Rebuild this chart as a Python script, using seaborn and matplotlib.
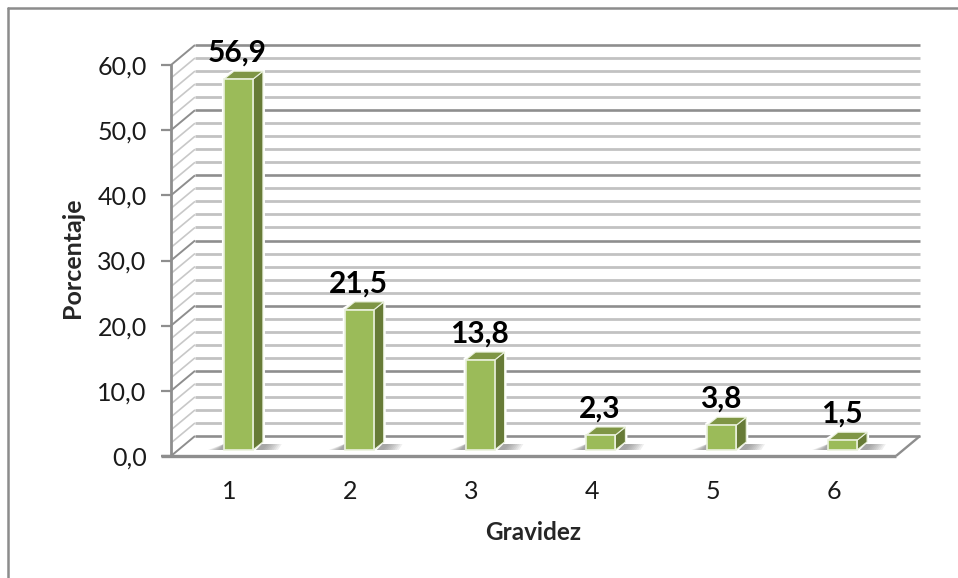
import matplotlib
matplotlib.use("Agg")
import matplotlib.pyplot as plt
import numpy as np
import pandas as pd
import seaborn as sns
from matplotlib.patches import Polygon
from matplotlib.lines import Line2D
from matplotlib.transforms import ScaledTranslation

categories = ["1", "2", "3", "4", "5", "6"]
percentages = [56.9, 21.5, 13.8, 2.3, 3.8, 1.5]
value_labels = ["56,9", "21,5", "13,8", "2,3", "3,8", "1,5"]
major_ticks = [0, 10, 20, 30, 40, 50, 60]
minor_grid = [2, 4, 6, 8, 12, 14, 16, 18, 22, 24, 26, 28, 32, 34, 36, 38, 42, 44, 46, 48, 52, 54, 56, 58]

W, H = 958, 578
sns.set_theme(style="white")
plt.rcParams["font.family"] = ["Lato", "DejaVu Sans"]

fig = plt.figure(figsize=(W / 100, H / 100), dpi=100, facecolor="white")
# Front plane of the pseudo-3D plot, in pixels
left, right, top, bottom = 171, 896, 65, 456
ax = fig.add_axes([left / W, 1 - bottom / H, (right - left) / W, (bottom - top) / H])
ax.patch.set_alpha(0)

df = pd.DataFrame({"Gravidez": categories, "Porcentaje": percentages})
sns.barplot(data=df, x="Gravidez", y="Porcentaje", color="#9BBB59", saturation=1,
            width=0.24, ax=ax, zorder=5, edgecolor="#EAF1DD", linewidth=1.2)
ax.set_xlim(-0.5, 5.5)
ax.set_ylim(0, 60)

ux = 6 / (right - left)      # data units per pixel, x
uy = 60 / (bottom - top)     # data units per pixel, y


def px(dx, dy):
    return dx * ux, dy * uy


# Back wall depth
wall_dx, wall_dy = px(24, 20)
xa, xb = -0.5, 5.5


def guide(xs, ys, color, lw, z=1):
    ax.add_line(Line2D(xs, ys, color=color, lw=lw, zorder=z, clip_on=False, solid_capstyle="butt"))


for v in minor_grid:
    guide([xa, xa + wall_dx], [v, v + wall_dy], "#C8C8C8", 1.2)
    guide([xa + wall_dx, xb + wall_dx], [v + wall_dy, v + wall_dy], "#C2C2C2", 2.0)
for v in major_ticks:
    guide([xa, xa + wall_dx], [v, v + wall_dy], "#8E8E8E", 1.4, 2)
    guide([xa + wall_dx, xb + wall_dx], [v + wall_dy, v + wall_dy], "#8E8E8E", 1.9, 2)

# Floor: right edge and front edge
guide([xb, xb + wall_dx], [0, wall_dy], "#8E8E8E", 1.7, 2)
guide([xa - 10 * ux, xb], [0, 0], "#8E8E8E", 2.4, 3)

# Floor area in front of the back wall stays clear of the wall's side lines
ax.add_patch(Polygon([(xa + wall_dx * 0.02, 0.15), (xb, 0.15), (xb + wall_dx * 0.97, wall_dy - 0.15),
                      (xa + wall_dx, wall_dy - 0.15)],
                     fc="white", ec="none", zorder=1.5, clip_on=False))

# Solid faces are lifted onto the floor and pushed sideways from the front plane
lift_x, lift_y = px(7, 6)
side_x, side_y = px(10, 8)
halo_x, halo_y = px(2, 2)

for i, bar in enumerate(ax.patches):
    if i >= len(percentages):
        break
    x0 = bar.get_x() + lift_x
    w = bar.get_width()
    h = bar.get_height()
    y0 = lift_y
    x1 = x0 + w
    y1 = y0 + h
    bar.set_x(x0)
    bar.set_y(y0)
    bar.set_clip_on(False)
    # White gap that interrupts the grid around each bar
    ax.add_patch(Polygon([(x0 - halo_x, y0), (x0 - halo_x, y1 + halo_y), (x0 + side_x, y1 + side_y + halo_y),
                          (x1 + side_x + halo_x, y1 + side_y + halo_y), (x1 + side_x + halo_x, y0 + side_y),
                          (x1 + side_x, y0)],
                         fc="white", ec="none", zorder=3, clip_on=False))
    # Soft floor shadows on both sides
    for step in np.linspace(1.0, 0.3, 8):
        ax.add_patch(Polygon([(x1 + 3 * ux, y0), (x1 + 3 * ux + 22 * step * ux, y0),
                              (x1 + 9 * ux + 22 * step * ux * 0.9, y0 + 6 * uy), (x1 + 9 * ux, y0 + 6 * uy)],
                             fc="#707070", ec="none", alpha=0.11, zorder=3.5, clip_on=False))
        ax.add_patch(Polygon([(x0, y0), (x0 - 16 * step * ux, y0), (x0, y0 + 6 * uy)],
                             fc="#707070", ec="none", alpha=0.11, zorder=3.5, clip_on=False))
    # Side and top faces of the column
    ax.add_patch(Polygon([(x1, y0), (x1 + side_x, y0 + side_y), (x1 + side_x, y1 + side_y), (x1, y1)],
                         fc="#677B37", ec="#EAF1DD", lw=0.8, zorder=4.5, clip_on=False))
    ax.add_patch(Polygon([(x0, y1), (x0 + side_x, y1 + side_y), (x1 + side_x, y1 + side_y), (x1, y1)],
                         fc="#7F9645", ec="#EAF1DD", lw=0.8, zorder=4.5, clip_on=False))
    ax.text(x0 + w / 2 - 1 * ux, y1 + side_y + 4.5 * uy, value_labels[i], ha="center", va="bottom",
            fontsize=21.5, fontweight="bold", color="black", zorder=6, clip_on=False)

# Axes furniture
ax.set_yticks(major_ticks)
ax.set_yticklabels([f"{v:.1f}".replace(".", ",") for v in major_ticks], fontsize=18, color="#1a1a1a")
ax.tick_params(axis="y", length=7.5, width=1.6, color="#8E8E8E", pad=10, left=True)
ax.tick_params(axis="x", length=0, pad=17, labelsize=18, labelcolor="#1a1a1a")
# Category labels sit slightly left of the slot centres
for label in ax.get_xticklabels():
    label.set_transform(label.get_transform() + ScaledTranslation(-2 / 100, 0, fig.dpi_scale_trans))
for name in ("top", "right", "bottom"):
    ax.spines[name].set_visible(False)
ax.spines["left"].set_color("#8E8E8E")
ax.spines["left"].set_linewidth(2.0)
ax.spines["left"].set_zorder(4)
ax.set_xlabel("")
ax.set_ylabel("")
fig.text(533 / W, 1 - 532 / H, "Gravidez", ha="center", va="center", fontsize=17.5, fontweight="bold")
fig.text(73 / W, 1 - 258 / H, "Porcentaje", ha="center", va="center", rotation=90, fontsize=18, fontweight="bold")

# Chart-area border
fig.add_artist(Line2D([8 / W, 8 / W], [0, 1 - 8 / H], color="#8C8C8C", lw=1.8))
fig.add_artist(Line2D([8 / W, 1], [1 - 8 / H, 1 - 8 / H], color="#8C8C8C", lw=1.8))

fig.savefig("out.png", dpi=100, facecolor="white")
